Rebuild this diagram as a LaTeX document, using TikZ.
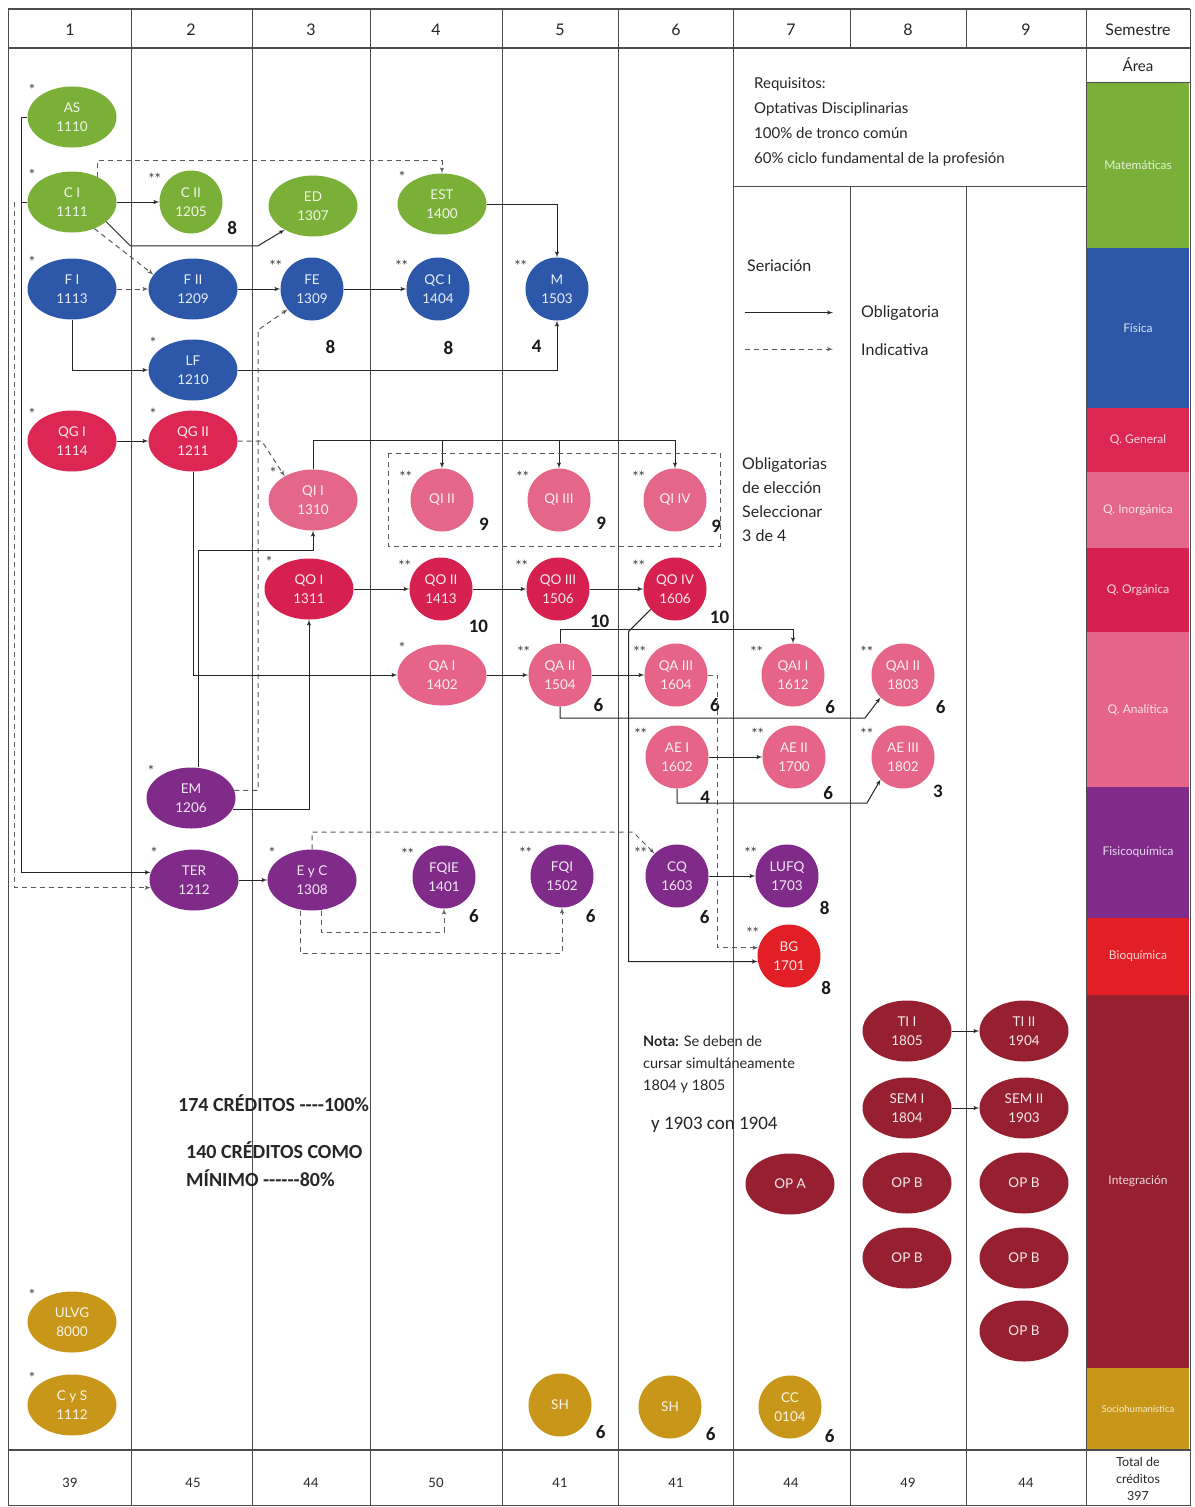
\documentclass[tikz,border=0pt]{standalone}
\usepackage{fontspec}
\setmainfont{Lato}
\newfontfamily\calib{Carlito}
\usepackage{tikz}
\usetikzlibrary{shapes,arrows}
\usetikzlibrary{positioning}
\definecolor{cmat}{RGB}{122,176,56}
\definecolor{cfis}{RGB}{45,88,170}
\definecolor{cqg}{RGB}{220,38,84}
\definecolor{cqi}{RGB}{228,102,136}
\definecolor{cqo}{RGB}{214,32,80}
\definecolor{cqa}{RGB}{229,100,135}
\definecolor{cfq}{RGB}{128,42,138}
\definecolor{cbq}{RGB}{226,30,38}
\definecolor{cint}{RGB}{150,32,48}
\definecolor{csoc}{RGB}{200,150,24}
\tikzset{>=latex', font=\fontsize{15}{25}\selectfont}
\tikzstyle{course} = [ellipse, minimum width=89pt, minimum height=61pt, inner sep=0pt, text=white, align=center, font=\fontsize{13.5}{19}\selectfont]
\tikzstyle{rnd} = [course, minimum width=63pt, minimum height=63pt]
\tikzstyle{mat} = [fill=cmat, text=white!90!cmat]
\tikzstyle{fis} = [fill=cfis, text=white!90!cfis]
\tikzstyle{qg} = [fill=cqg, text=white!90!cqg]
\tikzstyle{qi} = [fill=cqi, text=white!90!cqi]
\tikzstyle{qo} = [fill=cqo, text=white!90!cqo]
\tikzstyle{qa} = [fill=cqa, text=white!90!cqa]
\tikzstyle{fq} = [fill=cfq, text=white!90!cfq]
\tikzstyle{bq} = [fill=cbq, text=white!90!cbq]
\tikzstyle{integ} = [fill=cint, text=white!90!cint]
\tikzstyle{soc} = [fill=csoc, text=white!90!csoc]
\tikzstyle{ast} = [font=\fontsize{15}{15}\selectfont, text=black!75, inner sep=0.5pt, label distance=2pt]
\tikzstyle{s1} = [label={[ast]150:*}]
\tikzstyle{s2} = [label={[ast]150:**}]
\tikzstyle{cred} = [font=\calib\bfseries\fontsize{19}{19}\selectfont, text=black!90, inner sep=1pt, label distance=8pt]
\tikzstyle{oblig} = [->, black!85, line width=1pt]
\tikzstyle{indic} = [->, black!65, line width=1pt, dash pattern=on 5pt off 4pt]
\tikzstyle{gline} = [black!70, line width=1pt]
\tikzstyle{txt} = [inner sep=0pt, align=left, text=black!85]
\tikzstyle{headtxt} = [font=\fontsize{16}{16}\selectfont, text=black!85]
\tikzstyle{foottxt} = [font=\fontsize{13}{17}\selectfont, text=black!85, align=center]
\tikzstyle{areatxt} = [font=\fontsize{12}{12}\selectfont]

\begin{document}
\begin{tikzpicture}[x=1pt, y=-1pt]
	\useasboundingbox (0,0) rectangle (1194,1507);
	\fill[white] (0,0) rectangle (1194,1507);

	% area column
	\foreach \ya/\yb/\col/\name in {82/248/cmat/Matemáticas, 248/408/cfis/Física, 408/472/cqg/Q. General, 472/548/cqi/Q. Inorgánica, 548/632/cqo/Q. Orgánica, 632/787/cqa/Q. Analítica, 787/918/cfq/Fisicoquímica, 918/995/cbq/Bioquímica, 995/1368/cint/Integración}
		\fill[\col] (1087,\ya) rectangle (1189,\yb);
	\foreach \ya/\yb/\col/\name in {82/248/cmat/Matemáticas, 248/408/cfis/Física, 408/472/cqg/Q. General, 472/548/cqi/Q. Inorgánica, 548/632/cqo/Q. Orgánica, 632/787/cqa/Q. Analítica, 787/918/cfq/Fisicoquímica, 918/995/cbq/Bioquímica, 995/1368/cint/Integración}
		\node[areatxt, text=white!82!\col] (area\ya) at (1138,{(\ya+\yb)/2}) {\name};
	\fill[csoc] (1087,1368) rectangle (1189,1450);
	\node[areatxt, font=\fontsize{9.5}{9.5}\selectfont, text=white!82!csoc] (area1368) at (1138,1409) {Sociohumanística};

	% grid
	\draw[gline] (8,9) rectangle (1190,1505);
	\draw[gline, line width=1.6pt] (8,9) -- (1190,9);
	\draw[gline, line width=1.6pt] (8,48) -- (1190,48);
	\draw[gline, line width=1.4pt] (8,1450) -- (1190,1450);
	\foreach \x in {131,252,370,502,618,733,1086}
		\draw[gline] (\x,9) -- (\x,1505);
	\foreach \x in {850,966} {
		\draw[gline] (\x,9) -- (\x,48);
		\draw[gline] (\x,186) -- (\x,1505);
	}
	\draw[gline] (733,186) -- (1086,186);
	\draw[gline] (1086,82) -- (1190,82);

	% header and footer
	\foreach \x [count=\i] in {70,191,311,436,560,676,791,908,1026}
		\node[headtxt] (sem\i) at (\x,30) {\i};
	\node[headtxt] (semestre) at (1138,30) {Semestre};
	\node[headtxt, font=\fontsize{15}{15}\selectfont] (area) at (1138,65) {Área};
	\foreach \x/\n [count=\i] in {70/39, 193/45, 311/44, 436/50, 560/41, 676/41, 791/44, 908/49, 1026/44}
		\node[foottxt] (tot\i) at (\x,1483) {\n};
	\node[foottxt, font=\fontsize{12.5}{17}\selectfont] (total) at (1138,1479) {Total de\\créditos\\397};

	% courses
	\node[course, mat, s1] (AS) at (72,117) {AS\\1110};
	\node[course, mat, s1] (CI) at (72,202) {C I\\1111};
	\node[course, fis, s1] (FI) at (72,289) {F I\\1113};
	\node[course, qg, s1] (QGI) at (72,441) {QG I\\1114};
	\node[course, soc, s1] (ULVG) at (72,1322) {ULVG\\8000};
	\node[course, soc, s1] (CyS) at (72,1405) {C y S\\1112};

	\node[rnd, mat, s2, label={[cred]-28:8}] (CII) at (191,202) {C II\\1205};
	\node[course, fis] (FII) at (193,289) {F II\\1209};
	\node[course, fis, s1] (LF) at (193,370) {LF\\1210};
	\node[course, qg, s1] (QGII) at (193,441) {QG II\\1211};
	\node[course, fq, s1] (EM) at (191,798) {EM\\1206};
	\node[course, fq, s1] (TER) at (194,880) {TER\\1212};

	\node[course, mat] (ED) at (313,206) {ED\\1307};
	\node[rnd, fis, s2, label={[cred, label distance=20pt]-76:8}] (FE) at (312,289) {FE\\1309};
	\node[course, qi, s1] (QIi) at (313,500) {QI I\\1310};
	\node[course, qo, s1] (QOi) at (309,589) {QO I\\1311};
	\node[course, fq, s1] (EyC) at (312,880) {E y C\\1308};

	\node[course, mat, s1] (EST) at (442,204) {EST\\1400};
	\node[rnd, fis, s2, label={[cred, label distance=20pt]-85:8}] (QCI) at (438,289) {QC I\\1404};
	\node[rnd, qi, s2, label={[cred]-25:9}] (QIii) at (442,500) {QI II};
	\node[rnd, qo, s2, label={[cred]-48:10}] (QOii) at (441,589) {QO II\\1413};
	\node[course, qa, s1] (QAi) at (442,675) {QA I\\1402};
	\node[rnd, fq, s2, label={[cred]-53:6}] (FQIE) at (444,877) {FQIE\\1401};

	\node[rnd, fis, s2, label={[cred, label distance=20pt]-106:4}] (M) at (557,289) {M\\1503};
	\node[rnd, qi, s2, label={[cred]-24:9}] (QIiii) at (559,500) {QI III};
	\node[rnd, qo, s2, label={[cred]-39:10}] (QOiii) at (558,589) {QO III\\1506};
	\node[rnd, qa, s2, label={[cred]-35:6}] (QAii) at (560,675) {QA II\\1504};
	\node[rnd, fq, s2, label={[cred]-55:6}] (FQI) at (562,876) {FQI\\1502};
	\node[rnd, soc, label={[cred]-29:6}] (SHa) at (560,1405) {SH};

	\node[rnd, qi, s2, label={[cred]-28:9}] (QIiv) at (675,500) {QI IV};
	\node[rnd, qo, s2, label={[cred]-32:10}] (QOiv) at (675,589) {QO IV\\1606};
	\node[rnd, qa, s2, label={[cred]-34:6}] (QAiii) at (676,675) {QA III\\1604};
	\node[rnd, qa, s2, label={[cred]-56:4}] (AEi) at (677,757) {AE I\\1602};
	\node[rnd, fq, s2, label={[cred]-57:6}] (CQ) at (677,876) {CQ\\1603};
	\node[rnd, soc, label={[cred]-29:6}] (SHb) at (670,1407) {SH};

	\node[rnd, qa, s2, label={[cred]-38:6}] (QAIi) at (793,675) {QAI I\\1612};
	\node[rnd, qa, s2, label={[cred]-45:6}] (AEii) at (794,757) {AE II\\1700};
	\node[rnd, fq, s2, label={[cred]-37:8}] (LUFQ) at (787,876) {LUFQ\\1703};
	\node[rnd, bq, s2, label={[cred]-38:8}] (BG) at (789,956) {BG\\1701};
	\node[course, integ] (OPA) at (790,1184) {OP A};
	\node[rnd, soc, label={[cred]-32:6}] (CC) at (790,1407) {CC\\0104};

	\node[rnd, qa, s2, label={[cred]-37:6}] (QAIii) at (903,675) {QAI II\\1803};
	\node[rnd, qa, s2, label={[cred]-43:3}] (AEiii) at (903,757) {AE III\\1802};
	\node[course, integ] (TIi) at (907,1031) {TI I\\1805};
	\node[course, integ] (SEMi) at (907,1108) {SEM I\\1804};
	\node[course, integ] (OPBa) at (907,1183) {OP B};
	\node[course, integ] (OPBb) at (907,1258) {OP B};

	\node[course, integ] (TIii) at (1024,1031) {TI II\\1904};
	\node[course, integ] (SEMii) at (1024,1108) {SEM II\\1903};
	\node[course, integ] (OPBc) at (1024,1183) {OP B};
	\node[course, integ] (OPBd) at (1024,1258) {OP B};
	\node[course, integ] (OPBe) at (1024,1331) {OP B};

	% seriation
	\draw[oblig] (AS.west) -- ++(-6,0) |- (TER.170);
	\draw[oblig, -] (CI.west) -- ++(-6,0);
	\draw[indic] ([xshift=-13pt]CI.west) |- (TER.190);
	\draw[oblig] (CI) -- (CII);
	\draw[oblig] (CI.-30) -- ++(24,24) -- ++(128,0) -- (ED.220);
	\draw[indic] (CI.45) -- ++(0,-16) -| (EST.north);
	\draw[indic] (CI.-50) -- (FII.160);
	\draw[indic] (FI) -- (FII);
	\draw[oblig] (FII) -- (FE);
	\draw[oblig] (FE) -- (QCI);
	\draw[oblig] (EST.east) -| (M.north);
	\draw[oblig] (FI.south) |- (LF.west);
	\draw[oblig] (LF.east) -| (M.south);
	\draw[indic] (EM.10) -| ([xshift=-54pt,yshift=-41pt]FE.center) -- (FE.220);
	\draw[oblig] (QGI) -- (QGII);
	\draw[indic] (QGII.east) -- ++(24,0) -- (QIi.140);
	\draw[oblig] (QGII.south) |- (QAi.west);
	\draw[oblig] ([xshift=7pt]EM.north) |- ([yshift=-20pt]QIi.south) -- (QIi.south);
	\draw[oblig] (EM.-15) -| (QOi.south);
	\draw[oblig] (QIi.north) |- ([yshift=28pt]QIiv.north) -- (QIiv.north);
	\draw[oblig] ([yshift=28pt]QIii.north) -- (QIii.north);
	\draw[oblig] ([yshift=28pt]QIiii.north) -- (QIiii.north);
	\draw[indic, -] ([shift={(-54,-47)}]QIii.center) rectangle ([shift={(45,46)}]QIiv.center);
	\draw[oblig] (QOi) -- (QOii);
	\draw[oblig] (QOii) -- (QOiii);
	\draw[oblig] (QOiii) -- (QOiv);
	\draw[oblig] (QAi) -- (QAii);
	\draw[oblig] (QAii) -- (QAiii);
	\draw[oblig] (QAii.north) |- ([yshift=14pt]QAIi.north) -- (QAIi.north);
	\draw[oblig] (QAii.south) |- ([xshift=-38pt,yshift=-43pt]QAIii.center) -- (QAIii.225);
	\draw[oblig] (QOiv.220) -- ++(-22,22) |- (BG.190);
	\draw[indic] (QAiii.east) -- ++(10,0) |- (BG.165);
	\draw[oblig] (AEi) -- (AEii);
	\draw[oblig] (AEi.south) |- ([xshift=-36pt,yshift=-46pt]AEiii.center) -- (AEiii.225);
	\draw[oblig] (TER) -- (EyC);
	\draw[indic] (EyC.north) |- ([xshift=-44pt,yshift=44pt]CQ.center) -- (CQ.135);
	\draw[indic] ([xshift=9pt]EyC.south) |- ([yshift=-55pt]FQIE.center) -- (FQIE.south);
	\draw[indic] ([xshift=-12pt]EyC.south) |- ([yshift=-77pt]FQI.center) -- (FQI.south);
	\draw[oblig] (CQ) -- (LUFQ);
	\draw[oblig] (TIi) -- (TIii);
	\draw[oblig] (SEMi) -- (SEMii);

	% notes and legend
	\node[txt, anchor=north west] (req) at (754,77) {Requisitos:\\Optativas Disciplinarias\\100\% de tronco común\\60\% ciclo fundamental de la profesión};
	\node[txt, anchor=base west, font=\fontsize{16}{16}\selectfont] (seri) at (747,271) {Seriación};
	\node[txt, anchor=base west, font=\fontsize{16}{16}\selectfont] (obl) at (861,317) {Obligatoria};
	\node[txt, anchor=base west, font=\fontsize{16}{16}\selectfont] (ind) at (861,355) {Indicativa};
	\draw[oblig] ([xshift=-116pt]obl.west) -- ([xshift=-28pt]obl.west);
	\draw[indic] ([xshift=-116pt]ind.west) -- ([xshift=-28pt]ind.west);
	\node[txt, anchor=north west, font=\fontsize{16}{24}\selectfont] (eleccion) at (742,458) {Obligatorias\\de elección\\Seleccionar\\3 de 4};
	\node[txt, anchor=north west, font=\fontsize{14.5}{22}\selectfont] (nota) at (643,1036) {\textbf{Nota:} Se deben de\\cursar simultáneamente\\1804 y 1805};
	\node[txt, anchor=west, font=\calib\fontsize{19}{19}\selectfont] (nota2) at (651,1125) {y 1903 con 1904};
	\node[txt, anchor=west, font=\calib\bfseries\fontsize{20}{20}\selectfont] (cien) at (178,1103) {174 CRÉDITOS {-}{-}{-}{-}100\%};
	\node[txt, anchor=north west, font=\calib\bfseries\fontsize{20}{28}\selectfont] (ochenta) at (186,1141) {140 CRÉDITOS COMO\\MÍNIMO {-}{-}{-}{-}{-}{-}80\%};
\end{tikzpicture}
\end{document}
